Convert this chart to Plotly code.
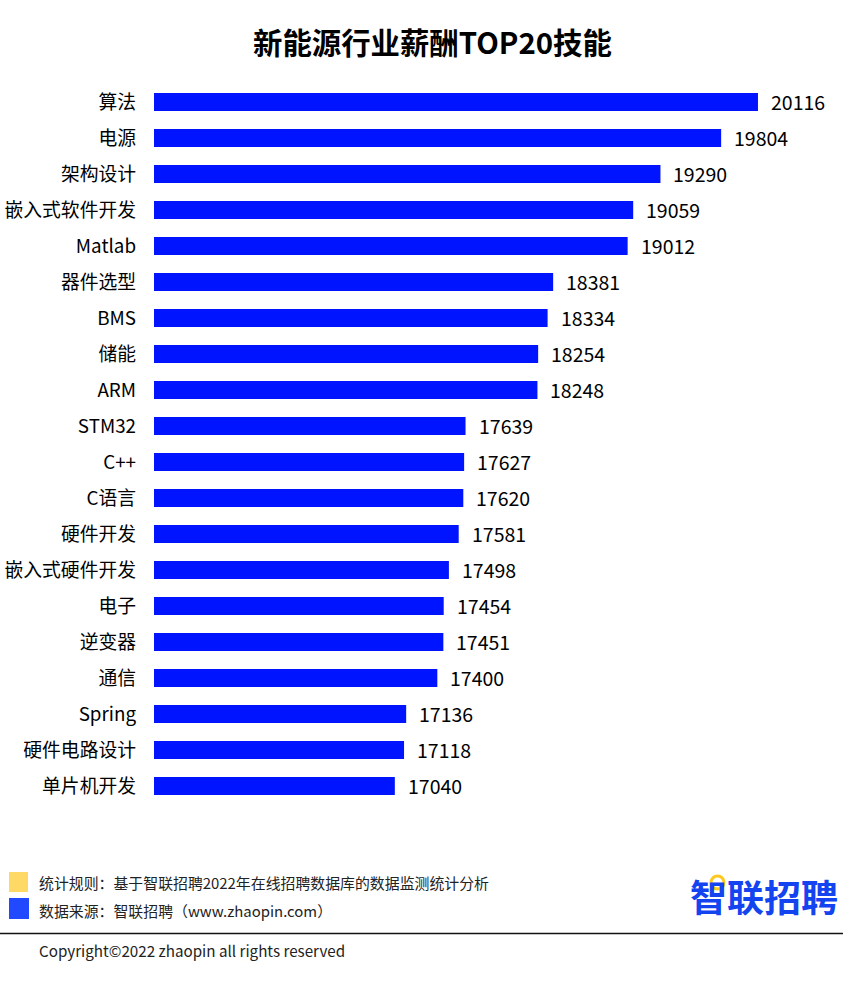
import plotly.graph_objects as go

W = 866
H = 989
# plot area in pixels
LEFT, RIGHT, TOP, BOTTOM = 154, 800, 84, 804

skills = ["算法", "电源", "架构设计", "嵌入式软件开发", "Matlab", "器件选型", "BMS", "储能", "ARM", "STM32",
          "C++", "C语言", "硬件开发", "嵌入式硬件开发", "电子", "逆变器", "通信", "Spring", "硬件电路设计", "单片机开发"]
salary = [20116, 19804, 19290, 19059, 19012, 18381, 18334, 18254, 18248, 17639,
          17627, 17620, 17581, 17498, 17454, 17451, 17400, 17136, 17118, 17040]

FONT = "Noto Sans CJK SC"
BLUE = "#0014ff"


def px(x):
    return (x - LEFT) / (RIGHT - LEFT)


def py(y):
    return (BOTTOM - y) / (BOTTOM - TOP)


fig = go.Figure()
fig.add_trace(go.Bar(x=salary, y=skills, orientation="h", width=0.5,
                     marker=dict(color=BLUE, line=dict(width=0)), hoverinfo="skip"))

# value labels sit further from the bar end than textposition outside allows
for skill, val in zip(skills, salary):
    fig.add_annotation(x=val, y=skill, text=str(val), showarrow=False, xanchor="left", xshift=11, yshift=1,
                       font=dict(family=FONT, size=19.5, color="#000000"))


def note(x, y, text, size, color="#000000", anchor="left"):
    fig.add_annotation(xref="paper", yref="paper", x=px(x), y=py(y), text=text, showarrow=False,
                       xanchor=anchor, yanchor="middle",
                       font=dict(family=FONT, size=size, color=color))


def box(x0, y0, x1, y1, color):
    fig.add_shape(type="rect", xref="paper", yref="paper", x0=px(x0), x1=px(x1), y0=py(y0), y1=py(y1),
                  fillcolor=color, line=dict(width=0))


# title
note(432, 41, "<b>新能源行业薪酬TOP20技能</b>", 29.4, anchor="center")

# footer
box(9, 872, 28, 892, "#ffd966")
box(9, 898, 29, 919, "#2149ff")
note(37, 882, "统计规则：基于智联招聘2022年在线招聘数据库的数据监测统计分析", 14.9, "#222222")
note(37, 910, "数据来源：智联招聘（www.zhaopin.com）", 14.9, "#222222")
note(37, 950, "Copyright©2022 zhaopin all rights reserved", 15.2, "#222222")
fig.add_shape(type="line", xref="paper", yref="paper", x0=px(0), x1=px(843), y0=py(933.5), y1=py(933.5),
              line=dict(color="#111111", width=1.5))

# logo
note(764, 896, "<b>智联招聘</b>", 37, "#1443f0", anchor="center")
fig.add_shape(type="circle", xref="paper", yref="paper", x0=px(711), x1=px(724), y0=py(876), y1=py(889),
              fillcolor="#ffffff", line=dict(color="#ffc81e", width=3))

fig.update_layout(
    width=W, height=H,
    margin=dict(l=LEFT, r=W - RIGHT, t=TOP, b=H - BOTTOM, pad=0, autoexpand=False),
    paper_bgcolor="white", plot_bgcolor="white",
    showlegend=False,
    xaxis=dict(range=[15000, 20472], visible=False),
    yaxis=dict(autorange="reversed", automargin=False, showline=False, showgrid=False, ticks="",
               ticklabelstandoff=17, tickfont=dict(family=FONT, size=18.8, color="#000000")),
)

fig.write_html("out.html", config=dict(displayModeBar=False), post_script="document.body.style.margin='0';")
